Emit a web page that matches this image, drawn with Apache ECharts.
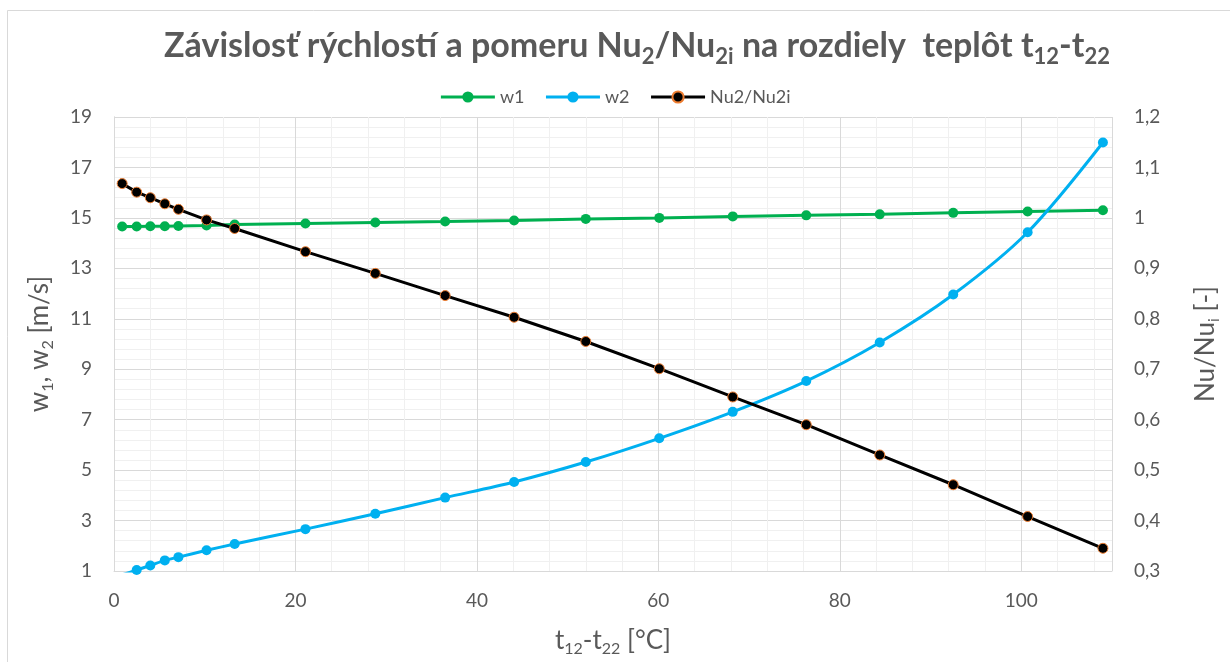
<!DOCTYPE html>
<html>
<head>
<meta charset="utf-8">
<title>Závislosť rýchlostí a pomeru Nu2/Nu2i</title>
<script src="https://cdn.jsdelivr.net/npm/echarts@6/dist/echarts.min.js"></script>
<style>
  html, body { margin: 0; padding: 0; background: #ffffff; }
  #chart { width: 1230px; height: 662px; }
</style>
</head>
<body>
<div id="chart"></div>
<script>
// Temperature difference t12 - t22 [°C]
const tDiff = [0.9, 2.5, 4.0, 5.6, 7.1, 10.2, 13.3, 21.1, 28.8, 36.5, 44.1, 52.0, 60.1, 68.2, 76.3, 84.4, 92.5, 100.7, 109.0];
// Velocities [m/s]
const w1 = [14.66, 14.66, 14.67, 14.67, 14.68, 14.70, 14.74, 14.78, 14.82, 14.86, 14.90, 14.96, 15.00, 15.06, 15.10, 15.14, 15.20, 15.25, 15.30];
const w2 = [0.85, 1.04, 1.22, 1.42, 1.55, 1.82, 2.07, 2.66, 3.27, 3.91, 4.53, 5.32, 6.26, 7.31, 8.53, 10.06, 11.96, 14.43, 17.99];
// Nusselt number ratio Nu2/Nu2i [-]
const nuRatio = [1.068, 1.051, 1.040, 1.028, 1.017, 0.996, 0.979, 0.933, 0.890, 0.846, 0.803, 0.755, 0.701, 0.645, 0.590, 0.530, 0.471, 0.408, 0.345];

const seriesNames = ['w1', 'w2', 'Nu2/Nu2i'];

const pairs = (ys) => tDiff.map((x, i) => [x, ys[i]]);
const comma = (v) => String(parseFloat(v.toFixed(2))).replace('.', ',');

const FONT = 'Lato, "Noto Sans", sans-serif';
const TEXT = '#595959';
const MAJOR = '#d9d9d9';
const MINOR = '#f0f0f0';

// rich styles for axis names with subscripts
const nameRich = {
  n: { fontFamily: FONT, fontSize: 26, lineHeight: 32, color: TEXT },
  s: { fontFamily: FONT, fontSize: 16, lineHeight: 16, verticalAlign: 'bottom', color: TEXT }
};

const chart = echarts.init(document.getElementById('chart'), null, { renderer: 'canvas' });

chart.setOption({
  animation: false,
  backgroundColor: '#ffffff',
  textStyle: { fontFamily: FONT },
  graphic: [{
    type: 'rect',
    shape: { x: 7.5, y: 10.5, width: 1400, height: 900 },
    style: { fill: 'none', stroke: '#d9d9d9', lineWidth: 1 },
    silent: true
  }],
  title: {
    text: '{t|Závislosť rýchlostí a pomeru Nu}{s|2}{t|/Nu}{s|2i}{t| na rozdiely  teplôt t}{s|12}{t|-t}{s|22}',
    left: 632,
    top: 19,
    textAlign: 'center',
    textStyle: {
      rich: {
        t: { fontFamily: FONT, fontWeight: 'bold', fontSize: 34, lineHeight: 44, color: TEXT },
        s: { fontFamily: FONT, fontWeight: 'bold', fontSize: 22, lineHeight: 22, verticalAlign: 'bottom', color: TEXT }
      }
    }
  },
  legend: {
    data: seriesNames,
    top: 83,
    left: 'center',
    itemWidth: 54,
    itemHeight: 14,
    itemGap: 20,
    lineStyle: { width: 3 },
    textStyle: { fontFamily: FONT, fontSize: 18, color: TEXT }
  },
  grid: { left: 114, right: 116, top: 117, bottom: 87, containLabel: false },
  xAxis: [{
    type: 'value',
    min: 0, max: 110, interval: 20,
    z: 2,
    name: '{n|t}{s|12}{n|-t}{s|22}{n| [°C]}',
    nameLocation: 'middle',
    nameGap: 54,
    nameTextStyle: { rich: nameRich },
    axisLine: { show: true, lineStyle: { color: MAJOR, width: 1 } },
    axisTick: { show: false },
    axisLabel: { show: true, showMaxLabel: false, margin: 20, fontSize: 19, color: TEXT, fontFamily: FONT },
    splitLine: { show: true, lineStyle: { color: MAJOR, width: 1 } }
  }, {
    type: 'value',
    min: 0, max: 110, interval: 4,
    position: 'bottom',
    z: 0,
    axisLine: { show: false },
    axisTick: { show: false },
    axisLabel: { show: false },
    splitLine: { show: true, lineStyle: { color: MINOR, width: 1 } }
  }],
  yAxis: [{
    type: 'value',
    position: 'left',
    min: 1, max: 19, interval: 1,
    name: '{n|w}{s|1}{n|, w}{s|2}{n| [m/s]}',
    nameLocation: 'middle',
    nameRotate: 90,
    nameGap: 58,
    nameTextStyle: { rich: nameRich },
    axisLine: { show: true, lineStyle: { color: MAJOR, width: 1 } },
    axisTick: { show: false },
    axisLabel: {
      margin: 22, fontSize: 19, color: TEXT, fontFamily: FONT,
      formatter: (v) => (Math.round(v) % 2 === 1 ? String(Math.round(v)) : '')
    },
    splitLine: { show: false }
  }, {
    type: 'value',
    position: 'right',
    min: 0.3, max: 1.2, interval: 0.1,
    name: '{n|Nu/Nu}{s|i}{n| [-]}',
    nameLocation: 'middle',
    nameRotate: 90,
    nameGap: 78,
    nameTextStyle: { rich: nameRich },
    axisLine: { show: true, lineStyle: { color: MAJOR, width: 1 } },
    axisTick: { show: true, inside: false, length: 6, lineStyle: { color: MAJOR } },
    axisLabel: { margin: 22, fontSize: 19, color: TEXT, fontFamily: FONT, formatter: comma },
    splitLine: { show: true, lineStyle: { color: MAJOR, width: 1 } },
    minorTick: { show: false, splitNumber: 5 },
    minorSplitLine: { show: true, lineStyle: { color: MINOR, width: 1 } }
  }],
  series: [{
    name: seriesNames[0],
    type: 'line',
    xAxisIndex: 0, yAxisIndex: 0,
    data: pairs(w1),
    symbol: 'circle', symbolSize: 10,
    lineStyle: { color: '#00b050', width: 3 },
    itemStyle: { color: '#00b050' }
  }, {
    name: seriesNames[1],
    type: 'line',
    xAxisIndex: 0, yAxisIndex: 0,
    data: pairs(w2),
    smooth: 0.3,
    clip: true,
    symbol: 'circle', symbolSize: 10,
    lineStyle: { color: '#00b0f0', width: 3 },
    itemStyle: { color: '#00b0f0' }
  }, {
    name: seriesNames[2],
    type: 'line',
    xAxisIndex: 0, yAxisIndex: 1,
    data: pairs(nuRatio),
    symbol: 'circle', symbolSize: 10,
    lineStyle: { color: '#000000', width: 3 },
    itemStyle: { color: '#000000', borderColor: '#ed7d31', borderWidth: 1 }
  }]
});
</script>
</body>
</html>
